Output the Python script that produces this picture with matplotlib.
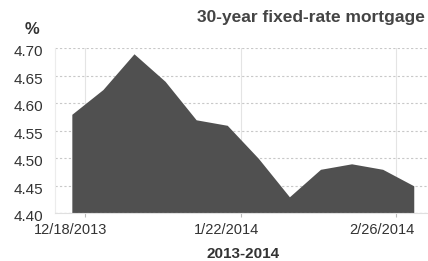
import matplotlib.pyplot as plt
import matplotlib.transforms as mtransforms
import pandas as pd

plt.rcParams.update({
    "font.family": "Liberation Sans",
    "font.size": 10,
})

# weekly rates
dates = pd.date_range("2013-12-15", periods=12, freq="7D")
rates = [4.58, 4.625, 4.69, 4.64, 4.57, 4.56, 4.50, 4.43, 4.48, 4.49, 4.48, 4.45]

tick_dates = pd.to_datetime(["2013-12-18", "2014-01-22", "2014-02-26"])
tick_labels = ["12/18/2013", "1/22/2014", "2/26/2014"]
y_ticks = [4.40, 4.45, 4.50, 4.55, 4.60, 4.65, 4.70]

W, H = 428, 261
fig = plt.figure(figsize=(W / 100, H / 100), dpi=100)
ax = fig.add_axes([55 / W, 1 - 213.3 / H, 1 - 55 / W, (213.3 - 48.3) / H])

ax.fill_between(dates, 4.40, rates, color="#505050", linewidth=0, zorder=2)
ax.axhline(4.40, color="#d0d0d0", linestyle=(0, (2, 2)), linewidth=0.8, zorder=3)

ax.set_ylim(4.40, 4.70)
ax.set_xlim(pd.Timestamp("2013-12-11 05:00"), pd.Timestamp("2014-03-05 05:00"))
ax.set_yticks(y_ticks)
ax.set_xticks(tick_dates)
ax.tick_params(axis="both", labelleft=False, labelbottom=False)

# tick labels drawn by hand: they sit a little off their ticks in the original
ytrans = ax.get_yaxis_transform() + mtransforms.ScaledTranslation(-0.12, -0.04, fig.dpi_scale_trans)
for v in y_ticks:
    ax.text(0, v, f"{v:.2f}", transform=ytrans, ha="right", va="center",
            color="#333333", fontsize=11)
xtrans = ax.get_xaxis_transform() + mtransforms.ScaledTranslation(-0.145, -0.17, fig.dpi_scale_trans)
for d, lab in zip(tick_dates, tick_labels):
    ax.text(d, 0, lab, transform=xtrans, ha="center", va="center",
            color="#333333", fontsize=10.5)

ax.grid(axis="y", color="#c8c8c8", linestyle=(0, (2, 2)), linewidth=0.8, zorder=1)
ax.grid(axis="x", color="#e4e4e4", linestyle="-", linewidth=0.8, zorder=1)
for side in ["top", "right"]:
    ax.spines[side].set_visible(False)
ax.spines["left"].set_color("#ececec")
ax.spines["bottom"].set_color("#e0e0e0")
ax.tick_params(axis="y", length=0)
ax.tick_params(axis="x", length=3, color="#bbbbbb")

fig.text(243 / W, 1 - 253.5 / H, "2013-2014", fontweight="bold", color="#333333",
         fontsize=11, ha="center", va="center")
fig.text(32 / W, 1 - 29 / H, "%", fontweight="bold", color="#333333",
         fontsize=12, ha="center", va="center")
fig.text(197 / W, 1 - 17.5 / H, "30-year fixed-rate mortgage", fontweight="bold",
         color="#444444", fontsize=12.5, ha="left", va="center")

fig.savefig("out.png", dpi=100)
